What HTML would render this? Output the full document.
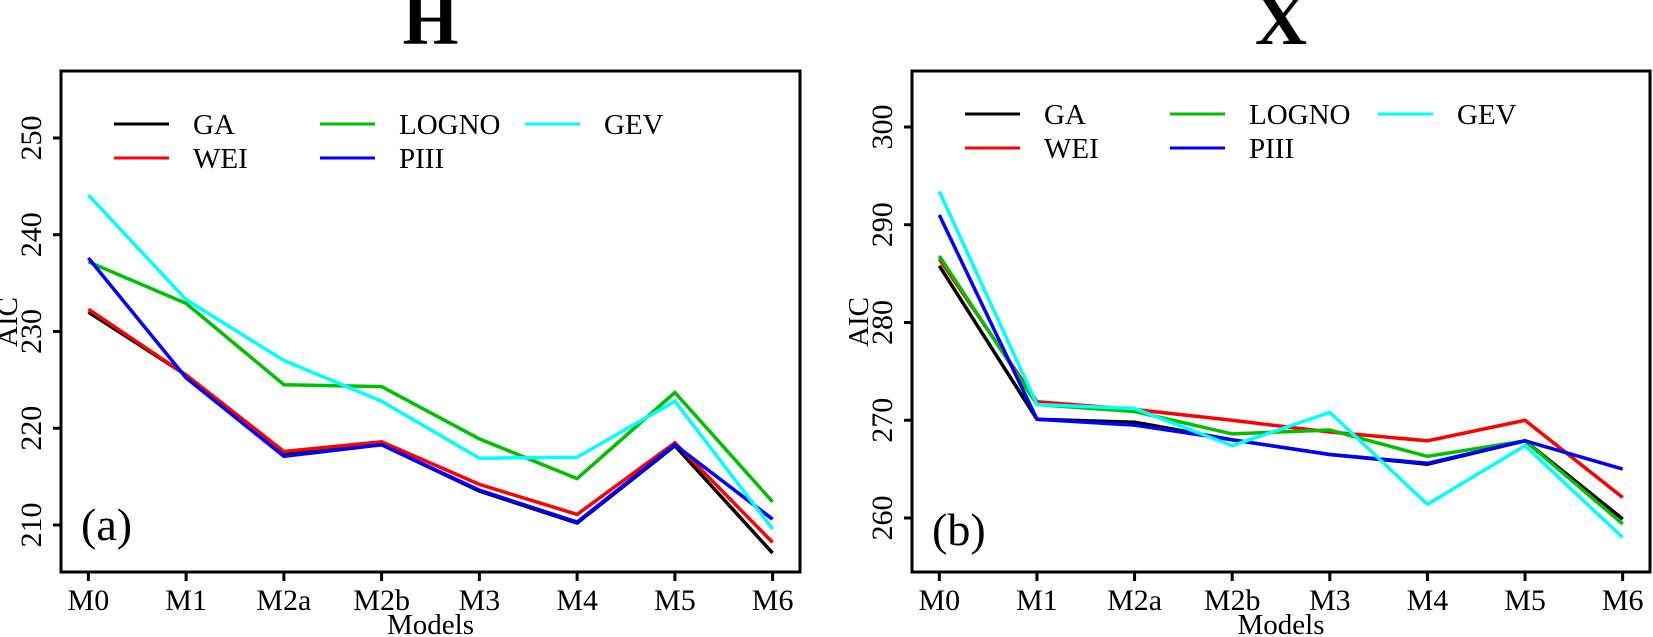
<!DOCTYPE html>
<html><head><meta charset="utf-8">
<style>
html,body{margin:0;padding:0;background:#fff;}
svg{display:block;font-family:"Liberation Serif",serif;}
svg text{font-family:"Liberation Serif",serif;}
</style></head>
<body>
<svg id="chart" width="1653" height="637" viewBox="0 0 1653 637"></svg>
<script>
const categories = ["M0","M1","M2a","M2b","M3","M4","M5","M6"];
const seriesNames = ["GA","WEI","LOGNO","PIII","GEV"];
const seriesColors = ["#000000","#ff0000","#00c000","#0000ff","#00ffff"];
// Panel (a) H
const hGA    = [232.0,225.5,217.3,218.3,213.5,210.2,218.2,207.1];
const hWEI   = [232.3,225.5,217.6,218.6,214.2,211.1,218.5,208.2];
const hLOGNO = [237.2,232.9,224.5,224.3,218.9,214.8,223.7,212.4];
const hPIII  = [237.6,225.2,217.1,218.3,213.6,210.3,218.3,210.6];
const hGEV   = [244.1,233.3,227.0,222.8,216.9,217.0,222.8,209.6];
const hTicks = [210,220,230,240,250];
// Panel (b) X
const xGA    = [285.8,270.1,269.8,268.0,266.5,265.5,267.9,259.9];
const xWEI   = [286.5,271.9,271.1,270.0,268.8,267.9,270.0,262.1];
const xLOGNO = [286.8,271.6,270.9,268.6,269.0,266.3,267.9,259.4];
const xPIII  = [291.0,270.1,269.5,268.0,266.5,265.6,267.9,265.0];
const xGEV   = [293.4,271.6,271.2,267.4,270.8,261.4,267.4,258.0];
const xTicks = [260,270,280,290,300];

const NS="http://www.w3.org/2000/svg";
const svg=document.getElementById('chart');
function mk(tag,attrs,parent){const e=document.createElementNS(NS,tag);for(const k in attrs)e.setAttribute(k,attrs[k]);(parent||svg).appendChild(e);return e;}

function panel(cfg){
  const g=mk('g',{});
  
  
  const L=cfg.left,R=cfg.right,T=71,B=572;
  const n=categories.length;
  const step=(R-L)/((n-1)*1.08);
  const xs=i=>L+step*(n-1)*0.04+i*step;
  const ys=v=>cfg.y0+(cfg.v0-v)*cfg.k;
  cfg.series.forEach((vals,si)=>{
    const pts=vals.map((v,i)=>xs(i).toFixed(1)+','+ys(v).toFixed(1)).join(' ');
    const pl=mk('polyline',{points:pts,fill:'none',stroke:seriesColors[si],'stroke-width':3.5,'stroke-linejoin':'miter'},g);
    
    
  });
  const box=mk('rect',{x:L,y:T,width:R-L,height:B-T,fill:'none',stroke:'#000','stroke-width':3},g);
  
  
  cfg.ticks.forEach(t=>{
    const y=ys(t);
    mk('line',{x1:L-8,x2:L,y1:y,y2:y,stroke:'#000','stroke-width':3},g);
    const tx=mk('text',{x:0,y:0,'font-size':30,'text-anchor':'middle',transform:`translate(${L-20},${y}) rotate(-90)`},g);
    tx.textContent=t;
    
    
  });
  categories.forEach((c,i)=>{
    const x=xs(i);
    mk('line',{x1:x,x2:x,y1:B,y2:B+9,stroke:'#000','stroke-width':3},g);
    const tx=mk('text',{x:x,y:610,'font-size':30,'text-anchor':'middle'},g);
    tx.textContent=c;
    
    
  });
  const xl=mk('text',{x:(L+R)/2,y:634,'font-size':29,'text-anchor':'middle'},g);
  xl.textContent='Models';
  
  
  const yl=mk('text',{x:0,y:0,'font-size':29,'text-anchor':'middle',transform:`translate(${L-44},322) rotate(-90)`},g);
  yl.textContent='AIC';
  
  
  const tt=mk('text',{x:(L+R)/2,y:44,'font-size':72,'font-weight':'bold','text-anchor':'middle'},g);
  tt.textContent=cfg.title;
  
  
  const pl=mk('text',{x:L+20,y:cfg.tagY,'font-size':46},g);
  pl.textContent=cfg.tag;
  
  
  const cols=[cfg.legX[0],cfg.legX[0],cfg.legX[1],cfg.legX[1],cfg.legX[2]];
  const rows=[0,1,0,1,0];
  seriesNames.forEach((s,si)=>{
    const lx=cols[si], ly=cfg.legY+rows[si]*34;
    const le=mk('g',{},g);
    
    
    mk('line',{x1:lx,x2:lx+55,y1:ly,y2:ly,stroke:seriesColors[si],'stroke-width':3},le);
    const t=mk('text',{x:lx+79,y:ly+10,'font-size':29},le);
    t.textContent=s;
  });
}
panel({name:'panel-h',left:61,right:800,v0:250,y0:138,k:9.675,ticks:hTicks,series:[hGA,hWEI,hLOGNO,hPIII,hGEV],title:'H',tag:'(a)',tagY:540,legX:[114,320,525],legY:124});
panel({name:'panel-x',left:912,right:1650,v0:300,y0:127,k:9.775,ticks:xTicks,series:[xGA,xWEI,xLOGNO,xPIII,xGEV],title:'X',tag:'(b)',tagY:545,legX:[965,1170,1378],legY:114});
</script>
</body></html>
